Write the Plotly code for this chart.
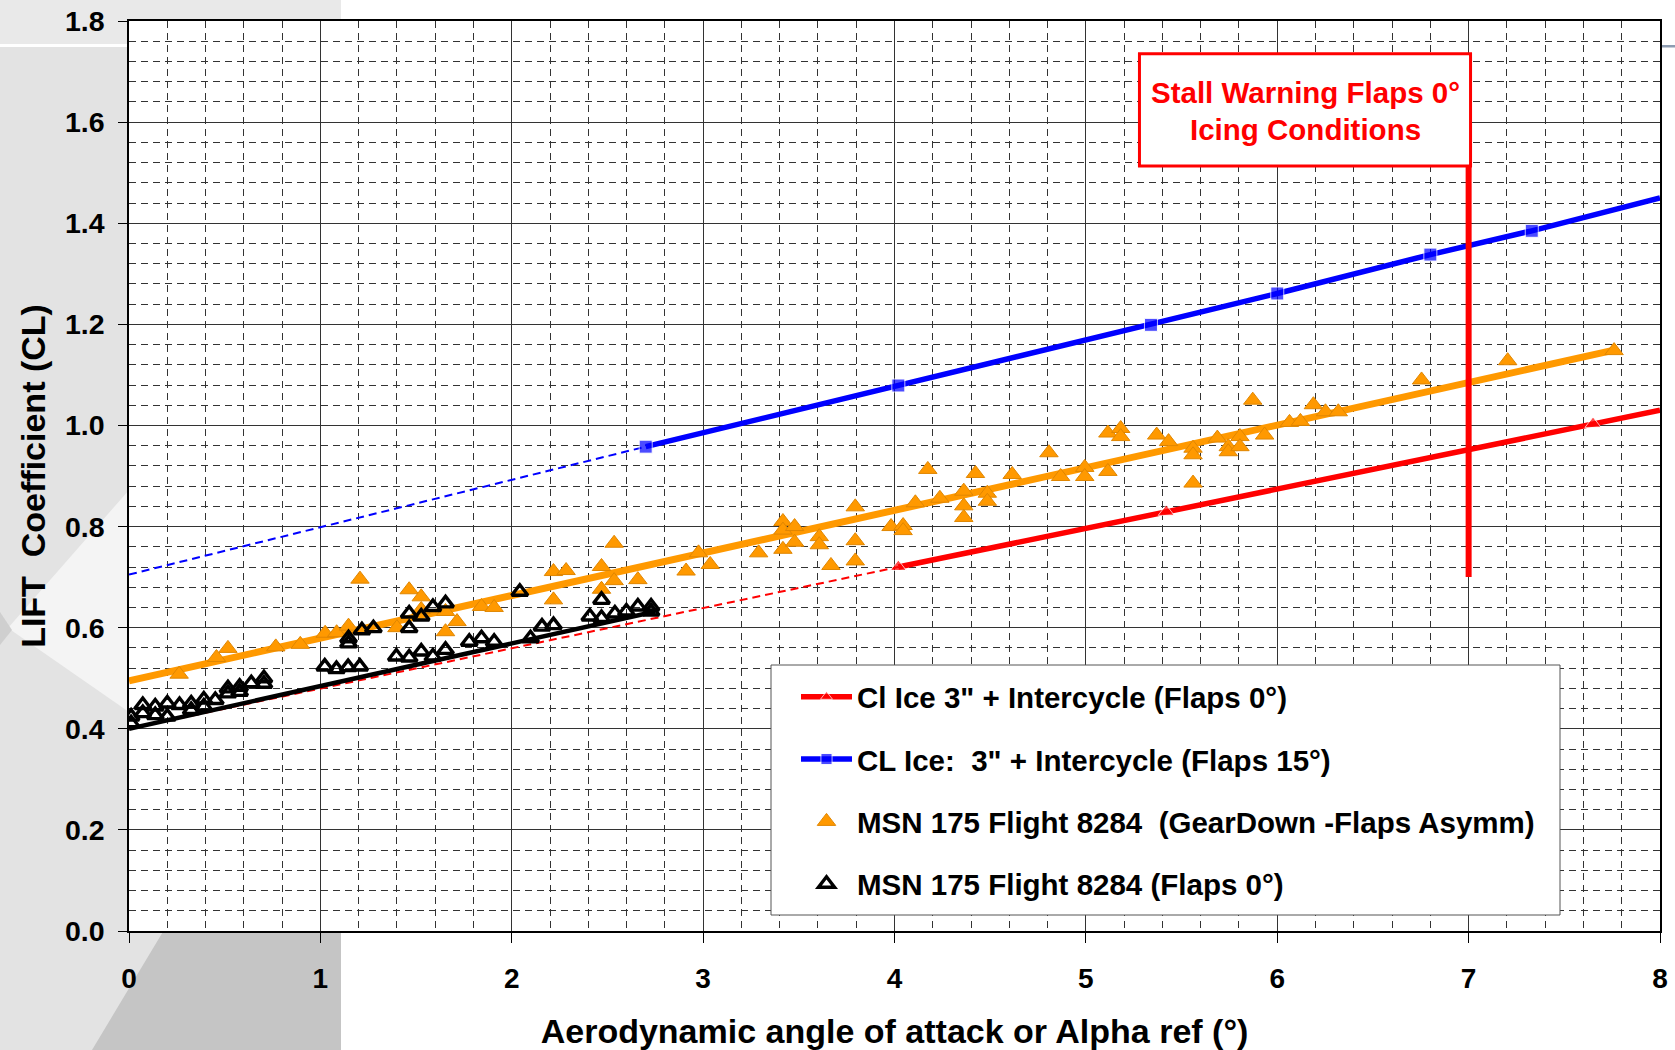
import plotly.graph_objects as go

# ---------------- data ----------------
# Icing reference curves (alpha in deg, CL)
red_alpha = [4.02, 5.42, 7.65, 8.0]
red_cl = [0.720, 0.829, 1.003, 1.030]
red_ext_alpha = [0.0, 4.02]
red_ext_cl = [0.400, 0.720]

blue_alpha = [2.70, 4.02, 5.34, 6.00, 6.80, 7.33, 8.0]
blue_cl = [0.958, 1.079, 1.199, 1.261, 1.338, 1.385, 1.450]
blue_ext_alpha = [0.0, 2.70]
blue_ext_cl = [0.705, 0.958]

# Flight 8284 - gear down / asymmetric flaps
orange_alpha = [0.262, 0.457, 0.517, 0.767, 0.895, 1.025, 1.085, 1.147, 1.207, 1.400,
                1.464, 1.527, 1.527, 1.654, 1.654, 1.714, 1.842, 1.908, 2.218, 2.284,
                2.218, 2.469, 2.469, 2.535, 2.535, 2.659, 2.911, 2.976, 3.037, 3.290,
                3.417, 3.417, 3.417, 3.478, 3.478, 3.607, 3.607, 3.668, 3.795, 3.795,
                3.795, 3.982, 4.045, 4.045, 4.109, 4.174, 4.237, 4.362, 4.362, 4.362,
                4.423, 4.485, 4.485, 4.615, 4.807, 4.868, 4.994, 4.994, 5.115, 5.115,
                5.182, 5.182, 5.370, 5.432, 5.560, 5.560, 5.560, 5.687, 5.744, 5.744,
                5.805, 5.805, 5.872, 5.934, 6.064, 6.121, 6.189, 6.252, 6.319, 6.754,
                7.204, 7.760]
orange_cl = [0.508, 0.541, 0.559, 0.562, 0.567, 0.589, 0.590, 0.603, 0.696, 0.600,
             0.675, 0.661, 0.636, 0.632, 0.592, 0.612, 0.642, 0.640, 0.711, 0.713,
             0.655, 0.721, 0.676, 0.767, 0.693, 0.695, 0.712, 0.748, 0.725, 0.748,
             0.810, 0.793, 0.755, 0.800, 0.769, 0.780, 0.764, 0.723, 0.839, 0.772,
             0.732, 0.800, 0.802, 0.792, 0.847, 0.913, 0.856, 0.870, 0.841, 0.818,
             0.905, 0.866, 0.850, 0.903, 0.946, 0.899, 0.917, 0.899, 0.985, 0.909,
             0.994, 0.978, 0.981, 0.968, 0.955, 0.942, 0.886, 0.975, 0.958, 0.948,
             0.978, 0.958, 1.050, 0.981, 1.006, 1.008, 1.041, 1.027, 1.027, 1.090,
             1.128, 1.148]
orange_fit_alpha = [0.0, 7.76]
orange_fit_cl = [0.495, 1.149]

# Flight 8284 - flaps 0
black_alpha = [0.011, 0.011, 0.072, 0.072, 0.137, 0.137, 0.200, 0.200, 0.264, 0.325,
               0.325, 0.391, 0.391, 0.451, 0.517, 0.517, 0.578, 0.578, 0.639, 0.705,
               0.705, 1.023, 1.084, 1.145, 1.206, 1.147, 1.147, 1.217, 1.277, 1.397,
               1.464, 1.527, 1.588, 1.654, 1.464, 1.464, 1.527, 1.588, 1.654, 1.778,
               1.842, 1.908, 2.042, 2.098, 2.158, 2.218, 2.408, 2.469, 2.469, 2.539,
               2.599, 2.659, 2.728, 2.728]
black_cl = [0.424, 0.411, 0.447, 0.431, 0.444, 0.427, 0.450, 0.424, 0.447, 0.450,
            0.437, 0.458, 0.444, 0.457, 0.480, 0.470, 0.483, 0.473, 0.490, 0.500,
            0.489, 0.523, 0.518, 0.522, 0.523, 0.569, 0.579, 0.595, 0.599, 0.543,
            0.541, 0.553, 0.543, 0.556, 0.628, 0.599, 0.622, 0.641, 0.648, 0.572,
            0.579, 0.572, 0.671, 0.579, 0.602, 0.605, 0.622, 0.655, 0.619, 0.628,
            0.632, 0.642, 0.642, 0.632]
black_fit_alpha = [0.0, 2.75]
black_fit_cl = [0.400, 0.632]

# stall warning threshold (flaps 0, icing)
stall_alpha = [7.0, 7.0]
stall_cl = [0.70, 1.515]

x_ticks = [0, 1, 2, 3, 4, 5, 6, 7, 8]
y_ticks = [0.0, 0.2, 0.4, 0.6, 0.8, 1.0, 1.2, 1.4, 1.6, 1.8]

# ---------------- styling ----------------
FONT = "Liberation Sans, Arial, sans-serif"
ORANGE = "#FF9900"
RED = "#FF0000"
BLUE = "#0000FF"

W, H = 1675, 1050
ML, MR, MT, MB = 129, 15, 21, 119
PW, PH = W - ML - MR, H - MT - MB


def px(x):
    return (x - ML) / PW


def py(y):
    return (H - MB - y) / PH


fig = go.Figure()

# thin dashed extrapolations
fig.add_trace(go.Scatter(x=red_ext_alpha, y=red_ext_cl, mode="lines", showlegend=False,
                         line=dict(color=RED, width=2, dash="8px,5px"), hoverinfo="skip"))
fig.add_trace(go.Scatter(x=blue_ext_alpha, y=blue_ext_cl, mode="lines", showlegend=False,
                         line=dict(color=BLUE, width=2, dash="8px,5px"), hoverinfo="skip"))

# trend lines of the flight data
fig.add_trace(go.Scatter(x=black_fit_alpha, y=black_fit_cl, mode="lines", showlegend=False,
                         line=dict(color="black", width=4.5), hoverinfo="skip"))
fig.add_trace(go.Scatter(x=orange_fit_alpha, y=orange_fit_cl, mode="lines", showlegend=False,
                         line=dict(color=ORANGE, width=7), hoverinfo="skip"))

# icing reference curves
fig.add_trace(go.Scatter(
    x=red_alpha, y=red_cl, mode="lines+markers", legendgroup="a",
    name="Cl Ice 3\" + Intercycle (Flaps 0°)",
    line=dict(color=RED, width=5.5),
    marker=dict(symbol="triangle-up", color=RED, size=[14, 14, 14, 0]),
))
fig.add_trace(go.Scatter(
    x=blue_alpha, y=blue_cl, mode="lines+markers", legendgroup="b",
    name="CL Ice:\u00a0 3\" + Intercycle (Flaps 15°)",
    line=dict(color=BLUE, width=5.5),
    marker=dict(symbol="square", color=BLUE, size=[13, 13, 13, 13, 13, 13, 0]),
))

# flight data points
fig.add_trace(go.Scatter(
    x=orange_alpha, y=orange_cl, mode="markers", legendgroup="c",
    name="MSN 175 Flight 8284\u00a0 (GearDown -Flaps Asymm)",
    marker=dict(symbol="triangle-up", color=ORANGE, size=16,
                line=dict(color="#E08600", width=1)),
))
fig.add_trace(go.Scatter(
    x=black_alpha, y=black_cl, mode="markers", legendgroup="d",
    name="MSN 175 Flight 8284 (Flaps 0°)",
    marker=dict(symbol="triangle-up-open", color="black", size=14,
                line=dict(color="black", width=3.4)),
))

# stall warning vertical
fig.add_trace(go.Scatter(x=stall_alpha, y=stall_cl, mode="lines", showlegend=False,
                         line=dict(color=RED, width=6), hoverinfo="skip"))

# ---------------- slide background ----------------
shapes = [
    dict(type="rect", xref="paper", yref="paper", x0=px(0), x1=px(341), y0=py(0), y1=py(H),
         fillcolor="#e3e3e3", line=dict(width=0), layer="below"),
    dict(type="rect", xref="paper", yref="paper", x0=px(0), x1=px(341), y0=py(0), y1=py(44),
         fillcolor="#e9e9e9", line=dict(width=0), layer="below"),
    dict(type="rect", xref="paper", yref="paper", x0=px(0), x1=px(341), y0=py(44), y1=py(47),
         fillcolor="#ffffff", line=dict(width=0), layer="below"),
    dict(type="rect", xref="paper", yref="paper", x0=px(341), x1=px(W), y0=py(45), y1=py(47.5),
         fillcolor="#8d9cb1", line=dict(width=0), layer="below"),
    dict(type="path", xref="paper", yref="paper",
         path=f"M {px(8)},{py(628)} L {px(129)},{py(490)} L {px(129)},{py(712)} Z",
         fillcolor="#f4f4f4", line=dict(width=0), layer="below"),
    dict(type="path", xref="paper", yref="paper",
         path=f"M {px(0)},{py(612)} L {px(12)},{py(630)} L {px(0)},{py(645)} Z",
         fillcolor="#cfcfcf", line=dict(width=0), layer="below"),
    dict(type="path", xref="paper", yref="paper",
         path=f"M {px(92)},{py(H)} L {px(200)},{py(870)} L {px(341)},{py(870)} L {px(341)},{py(H)} Z",
         fillcolor="#c5c5c5", line=dict(width=0), layer="below"),
    dict(type="rect", xref="paper", yref="paper", x0=0, x1=1, y0=0, y1=1,
         fillcolor="#ffffff", line=dict(width=0), layer="below"),
    # legend frame
    dict(type="rect", xref="paper", yref="paper", x0=px(771), x1=px(1560), y0=py(915), y1=py(665),
         fillcolor="#ffffff", line=dict(color="#555555", width=1), layer="above"),
    # stall warning label frame
    dict(type="rect", xref="x", yref="y", x0=5.28, x1=7.01, y0=1.513, y1=1.735,
         fillcolor="#ffffff", line=dict(color=RED, width=3), layer="above"),
]

label_font = dict(family=FONT, size=29.5, color=RED, weight=700)
fig.add_annotation(x=6.145, y=1.658, xref="x", yref="y", showarrow=False,
                   text="Stall Warning Flaps 0°", font=label_font)
fig.add_annotation(x=6.145, y=1.586, xref="x", yref="y", showarrow=False,
                   text="Icing Conditions", font=label_font)

grid_minor = dict(showgrid=True, gridcolor="#333333", gridwidth=1, griddash="7px,5px")

fig.update_layout(
    width=W, height=H,
    margin=dict(l=ML, r=MR, t=MT, b=MB, autoexpand=False),
    paper_bgcolor="#ffffff",
    plot_bgcolor="#ffffff",
    shapes=shapes,
    font=dict(family=FONT, color="black"),
    showlegend=True,
    legend=dict(
        x=px(771), y=py(671), xanchor="left", yanchor="top",
        bgcolor="rgba(0,0,0,0)", borderwidth=0,
        font=dict(family=FONT, size=29.5, color="black", weight=700),
        tracegroupgap=21, traceorder="grouped",
        itemwidth=51, indentation=25,
    ),
    xaxis=dict(
        range=[0, 8], tickvals=x_ticks, ticktext=[str(v) for v in x_ticks],
        showline=True, linecolor="black", linewidth=1.5, mirror=True,
        ticks="outside", ticklen=10, tickcolor="black", tickwidth=1,
        showgrid=True, gridcolor="#333333", gridwidth=1,
        minor=dict(dtick=0.2, **grid_minor),
        tickfont=dict(family=FONT, size=28, weight=700),
        ticklabelstandoff=12,
        zeroline=False,
        title=dict(text="Aerodynamic angle of attack or Alpha ref (°)",
                   font=dict(family=FONT, size=34, weight=700), standoff=28),
    ),
    yaxis=dict(
        range=[0, 1.8], tickvals=y_ticks, ticktext=[f"{v:.1f}" for v in y_ticks],
        showline=True, linecolor="black", linewidth=1.5, mirror=True,
        ticks="outside", ticklen=9, tickcolor="black", tickwidth=1,
        showgrid=True, gridcolor="#333333", gridwidth=1,
        minor=dict(dtick=0.04, **grid_minor),
        tickfont=dict(family=FONT, size=28.5, weight=700),
        ticklabelstandoff=8,
        zeroline=False,
        title=dict(text="LIFT\u00a0 Coefficient (CL)",
                   font=dict(family=FONT, size=34, weight=700), standoff=9),
    ),
)

fig.write_html("out.html")
